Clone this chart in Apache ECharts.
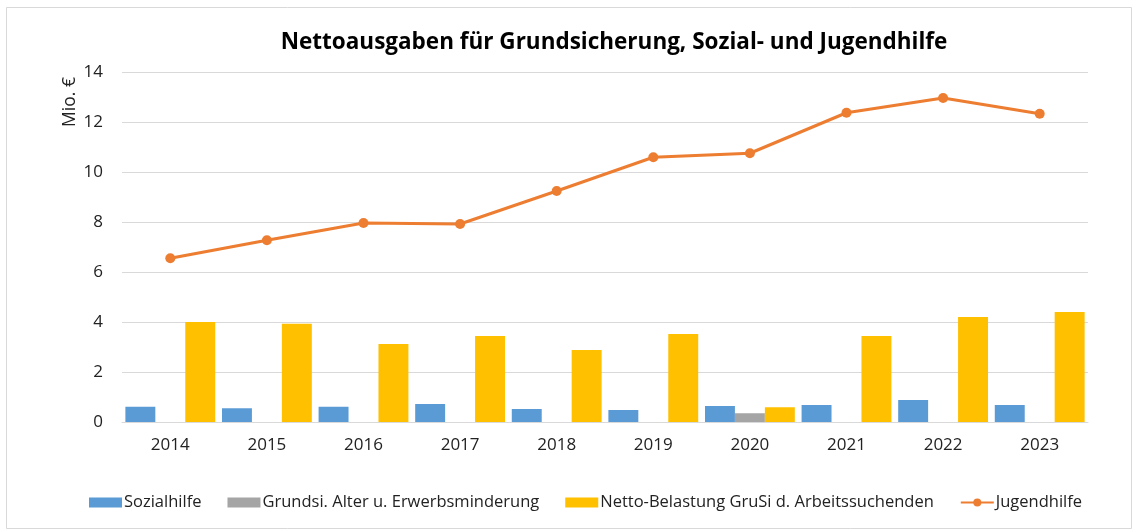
<!DOCTYPE html>
<html>
<head>
<meta charset="utf-8">
<title>Nettoausgaben</title>
<script src="https://cdn.jsdelivr.net/npm/echarts@6/dist/echarts.min.js"></script>
<style>
  html, body { margin: 0; padding: 0; background: #fff; }
  #container { width: 1138px; height: 531px; }
</style>
</head>
<body>
<div id="container"></div>
<script>
var years = ['2014', '2015', '2016', '2017', '2018', '2019', '2020', '2021', '2022', '2023'];
var sozialhilfe = [0.61, 0.55, 0.61, 0.72, 0.52, 0.48, 0.64, 0.68, 0.88, 0.68];
var grundsiAlter = [null, null, null, null, null, null, 0.35, null, null, null];
var nettoBelastung = [4.0, 3.93, 3.12, 3.44, 2.88, 3.52, 0.59, 3.44, 4.2, 4.4];
var jugendhilfe = [6.55, 7.27, 7.96, 7.92, 9.24, 10.59, 10.75, 12.37, 12.96, 12.33];

var dom = document.getElementById('container');
var myChart = echarts.init(dom);
var font = '"Open Sans", Lato, sans-serif';

var option = {
  animation: false,
  textStyle: { fontFamily: font },
  title: {
    text: 'Nettoausgaben für Grundsicherung, Sozial- und Jugendhilfe',
    left: 609,
    top: 26,
    textAlign: 'center',
    textStyle: { fontFamily: font, fontSize: 22.5, fontWeight: 'bold', color: '#000' }
  },
  graphic: [
    {
      type: 'rect',
      shape: { x: 6.5, y: 7.5, width: 1125, height: 521 },
      style: { fill: 'none', stroke: '#d9d9d9', lineWidth: 1 },
      silent: true
    },
    {
      type: 'text',
      x: 70,
      y: 102,
      rotation: Math.PI / 2,
      style: {
        text: 'Mio. €',
        font: '17.5px ' + font,
        fill: '#222',
        textAlign: 'center',
        textVerticalAlign: 'middle'
      }
    }
  ],
  legend: {
    bottom: 15,
    left: 84,
    itemWidth: 33,
    itemHeight: 10,
    itemGap: 26,
    textStyle: { fontFamily: font, fontSize: 16.5, color: '#222', padding: [0, 0, 0, -3] },
    data: [
      { name: 'Sozialhilfe', icon: 'rect' },
      { name: 'Grundsi. Alter u. Erwerbsminderung', icon: 'rect' },
      { name: 'Netto-Belastung GruSi d. Arbeitssuchenden', icon: 'rect' },
      { name: 'Jugendhilfe' }
    ]
  },
  grid: { left: 122, right: 50, top: 72, bottom: 109 },
  xAxis: {
    type: 'category',
    data: years,
    axisTick: { show: false },
    axisLine: { lineStyle: { color: '#d9d9d9', width: 1 } },
    axisLabel: { fontFamily: font, fontSize: 17, color: '#222', margin: 15 }
  },
  yAxis: {
    type: 'value',
    min: 0,
    max: 14,
    interval: 2,
    axisLine: { show: false },
    axisTick: { show: false },
    splitLine: { lineStyle: { color: '#d9d9d9', width: 1 } },
    axisLabel: { fontFamily: font, fontSize: 17, color: '#222', margin: 19 }
  },
  series: [
    {
      name: 'Sozialhilfe',
      type: 'bar',
      data: sozialhilfe,
      barGap: 0,
      barCategoryGap: '7%',
      itemStyle: { color: '#5B9BD5' }
    },
    {
      name: 'Grundsi. Alter u. Erwerbsminderung',
      type: 'bar',
      data: grundsiAlter,
      itemStyle: { color: '#A5A5A5' }
    },
    {
      name: 'Netto-Belastung GruSi d. Arbeitssuchenden',
      type: 'bar',
      data: nettoBelastung,
      itemStyle: { color: '#FFC000' }
    },
    {
      name: 'Jugendhilfe',
      type: 'line',
      data: jugendhilfe,
      symbol: 'circle',
      symbolSize: 10,
      lineStyle: { color: '#ED7D31', width: 3 },
      itemStyle: { color: '#ED7D31' }
    }
  ]
};

if (option && typeof option === 'object') {
  myChart.setOption(option);
}
</script>
</body>
</html>
